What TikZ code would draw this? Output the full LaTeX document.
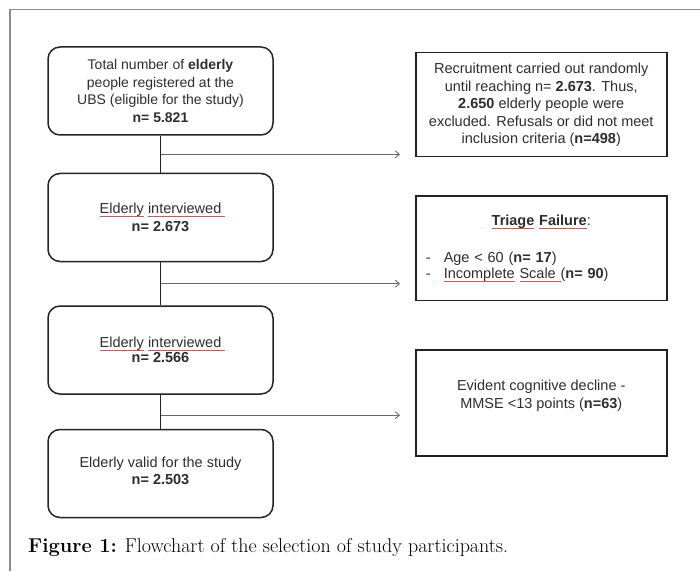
\documentclass[tikz,border=0pt]{standalone}
\usepackage{fontspec}
\setsansfont{Liberation Sans}
\usepackage{xcolor}
\usepackage{calc}
\usetikzlibrary{shapes,arrows,arrows.meta,positioning,calc}
\definecolor{boxline}{RGB}{35,35,35}
\definecolor{branchgray}{RGB}{105,105,105}
\definecolor{framegray}{RGB}{140,140,140}
\definecolor{spellred}{RGB}{205,85,85}
\definecolor{textgray}{RGB}{45,45,45}
\newcommand{\spellmark}[1]{\leavevmode\rlap{\textcolor{spellred}{\rule[-3.2pt]{\widthof{#1}}{0.7pt}}}#1}

\begin{document}
\begin{tikzpicture}[x=1pt, y=1pt, >={Straight Barb[length=4pt,width=7pt]},
    stagebox/.style={rectangle, draw=boxline, line width=1.5pt, rounded corners=12pt, minimum width=225pt, minimum height=88pt, align=center, text=textgray, font=\sffamily\fontsize{14.5}{17.5}\selectfont},
    exclbox/.style={rectangle, draw=boxline, line width=1.5pt, minimum width=251pt, minimum height=104pt, align=center, text=textgray, font=\sffamily\fontsize{14.5}{17.5}\selectfont},
    trunk/.style={draw=boxline, line width=1.6pt},
    branch/.style={->, draw=branchgray, line width=0.9pt, shorten >=15pt}]
        \useasboundingbox (0,0) rectangle (700,571);
        \draw[framegray, line width=1.2pt] (700,561.5) -| (10,0);

        \node[stagebox, font=\sffamily\fontsize{14}{17.4}\selectfont] (total) at (160.5,480) {Total number of \textbf{elderly}\\people registered at the\\UBS (eligible for the study)\\\textbf{n= 5.821}};
        \node[stagebox, below=37pt of total] (interv1) {\spellmark{Elderly} \spellmark{interviewed\ }\\\textbf{n= 2.673}};
        \node[stagebox, below=43pt of interv1] (interv2) {\spellmark{Elderly} \spellmark{interviewed\ }\\[-3pt]\textbf{n= 2.566}};
        \node[stagebox, below=34pt of interv2, text depth=6pt] (valid) {Elderly valid for the study\\\textbf{n= 2.503}};

        \node[exclbox, anchor=north west] (recruit) at (415,519) {Recruitment carried out randomly\\until reaching n= \textbf{2.673}. Thus,\\\textbf{2.650} elderly people were\\excluded. Refusals or did not meet\\inclusion criteria (\textbf{n=498})};
        \node[exclbox, below=38pt of recruit, text width=231pt] (triage) {\textbf{\spellmark{Triage} \spellmark{Failure}}:\\[19pt]\makebox[\linewidth][l]{\makebox[18pt][l]{-}Age < 60 (\textbf{n= 17})}\\[-1.5pt]\makebox[\linewidth][l]{\makebox[18pt][l]{-}\spellmark{Incomplete} \spellmark{Scale\ }(\textbf{n= 90})}};
        \node[exclbox, below=48pt of triage, minimum height=106pt, text depth=17pt] (decline) {Evident cognitive decline -\\MMSE <13 points (\textbf{n=63})};

        \coordinate (split1) at ($(total.south)!0.5!(interv1.north)$);
        \coordinate (split2) at ($(interv1.south)!0.5!(interv2.north)$);
        \coordinate (split3) at ($(interv2.south)!0.6!(valid.north)$);

        \draw[trunk] (total) -- (interv1);
        \draw[trunk] (interv1) -- (interv2);
        \draw[trunk] (interv2) -- (valid);
        \draw[branch] (split1) -- (split1 -| recruit.west);
        \draw[branch] (split2) -- (split2 -| triage.west);
        \draw[branch] (split3) -- (split3 -| decline.west);

        \node[anchor=base west, inner sep=0pt, font=\rmfamily\fontsize{20}{24}\selectfont] (caption) at (28,19) {\textbf{Figure 1:} Flowchart of the selection of study participants.};
      \end{tikzpicture}
\end{document}
